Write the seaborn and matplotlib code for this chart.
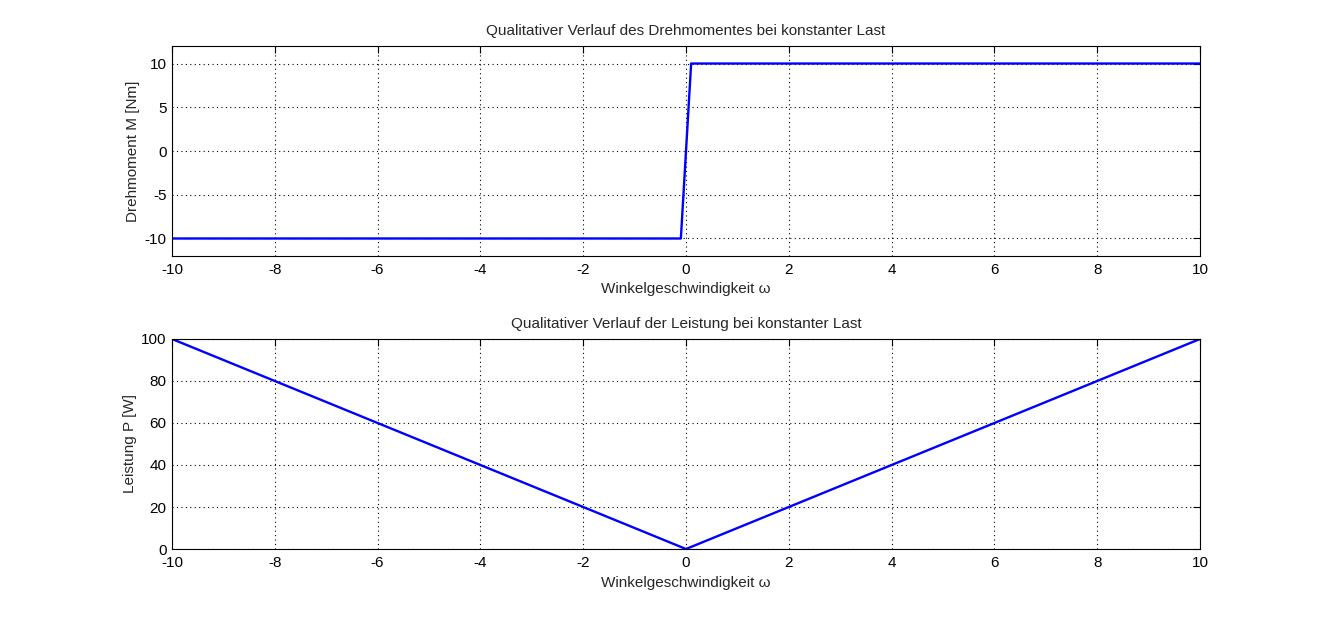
import numpy as np
import pandas as pd
import matplotlib
matplotlib.use("Agg")
import matplotlib.pyplot as plt
import seaborn as sns

# Drehmoment (Stuetzpunkte der Kennlinie)
omega_m = [-10, -0.1, 0, 0.1, 10]
moment = [-10, -10, 0, 10, 10]

# Leistung
omega_p = [-10, 0, 10]
leistung = [100, 0, 100]

x_ticks = list(range(-10, 11, 2))
m_ticks = [-10, -5, 0, 5, 10]
p_ticks = list(range(0, 101, 20))

sns.set_style("white")
plt.rcParams["font.family"] = ["Liberation Sans", "DejaVu Sans"]
plt.rcParams["font.size"] = 11
plt.rcParams["axes.unicode_minus"] = False

fig = plt.figure(figsize=(13.26, 6.17), dpi=100)
ax1 = fig.add_axes([0.1297, 0.5851, 0.7753, 0.3403])
ax2 = fig.add_axes([0.1297, 0.1102, 0.7753, 0.3404])

df_m = pd.DataFrame({"omega": omega_m, "M": moment})
df_p = pd.DataFrame({"omega": omega_p, "P": leistung})

sns.lineplot(data=df_m, x="omega", y="M", ax=ax1, color="#0000ff", linewidth=1.7)
sns.lineplot(data=df_p, x="omega", y="P", ax=ax2, color="#0000ff", linewidth=1.7)


def style(ax, yticks, ylim, title, ylabel):
    ax.set_xlim(-10, 10)
    ax.set_ylim(*ylim)
    ax.set_xticks(x_ticks)
    ax.set_yticks(yticks)
    ax.grid(True, color="black", linestyle=(0, (1, 3)), linewidth=0.8)
    ax.tick_params(direction="in", length=5, width=0.8, top=True, right=True,
                   labelsize=11, colors="black")
    ax.tick_params(axis="x", pad=5)
    ax.tick_params(axis="y", pad=4)
    for s in ax.spines.values():
        s.set_visible(True)
        s.set_color("black")
        s.set_linewidth(0.8)
    ax.set_title(title, fontsize=11, pad=8)
    ax.set_xlabel("Winkelgeschwindigkeit ω", fontsize=11, labelpad=4)
    ax.set_ylabel(ylabel, fontsize=11, labelpad=3)


style(ax1, m_ticks, (-12, 12),
      "Qualitativer Verlauf des Drehmomentes bei konstanter Last",
      "Drehmoment M [Nm]")
style(ax2, p_ticks, (0, 100),
      "Qualitativer Verlauf der Leistung bei konstanter Last",
      "Leistung P [W]")

fig.savefig("out.png", dpi=100)
